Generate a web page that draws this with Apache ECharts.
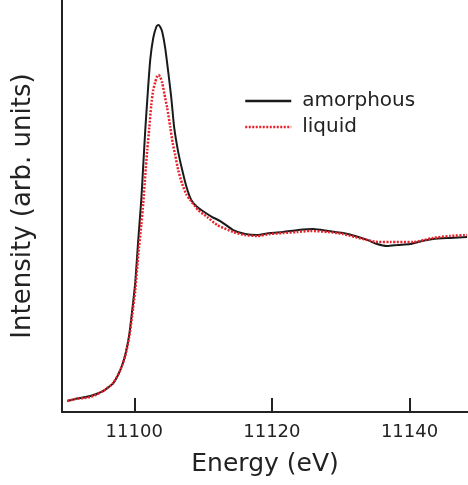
<!DOCTYPE html>
<html>
<head>
<meta charset="utf-8">
<script src="https://cdn.jsdelivr.net/npm/echarts@6/dist/echarts.min.js"></script>
<style>
html, body { margin: 0; padding: 0; background: #fff; }
#chart { width: 468px; height: 485px; }
</style>
</head>
<body>
<div id="chart"></div>
<script>
// X-ray absorption edge, amorphous vs liquid
var tick_values = [11100, 11120, 11140];

var amorphous_energy = [11090.27, 11091.43, 11093.61, 11095.50, 11096.95, 11097.97, 11098.69, 11099.27, 11099.71, 11100.15,
	11100.58, 11101.02, 11101.31, 11101.60, 11101.89, 11102.32, 11102.76, 11103.20, 11103.49, 11103.78,
	11104.07, 11104.50, 11104.94, 11105.37, 11105.81, 11106.39, 11106.97, 11107.55, 11108.28, 11109.15,
	11110.17, 11111.33, 11112.49, 11114.38, 11116.12, 11117.86, 11119.75, 11121.64, 11123.82, 11126.00,
	11128.18, 11130.36, 11132.10, 11133.84, 11135.29, 11136.75, 11138.34, 11140.09, 11141.83, 11143.43,
	11145.90, 11148.37];
var amorphous_intensity = [0.061, 0.072, 0.089, 0.117, 0.161, 0.233, 0.317, 0.428, 0.567, 0.722,
	0.956, 1.178, 1.372, 1.567, 1.733, 1.956, 2.078, 2.139, 2.150, 2.139,
	2.111, 2.022, 1.889, 1.750, 1.578, 1.444, 1.344, 1.256, 1.178, 1.139,
	1.111, 1.083, 1.061, 1.011, 0.989, 0.983, 0.994, 1.000, 1.011, 1.017,
	1.006, 0.994, 0.978, 0.956, 0.933, 0.922, 0.928, 0.933, 0.950, 0.961,
	0.967, 0.972];

var liquid_energy = [11090.27, 11091.43, 11093.61, 11095.50, 11096.95, 11097.97, 11098.69, 11099.27, 11099.71, 11100.15,
	11100.58, 11101.02, 11101.31, 11101.60, 11101.89, 11102.18, 11102.47, 11102.76, 11103.05, 11103.34,
	11103.53, 11103.78, 11104.07, 11104.50, 11104.79, 11105.23, 11105.59, 11105.95, 11106.39, 11106.97,
	11107.55, 11108.13, 11109.30, 11110.60, 11112.06, 11114.38, 11116.12, 11117.86, 11119.75, 11121.64,
	11123.67, 11125.56, 11128.18, 11130.36, 11132.10, 11133.84, 11135.44, 11137.18, 11140.52, 11143.43,
	11145.90, 11148.37];
var liquid_intensity = [0.061, 0.072, 0.083, 0.117, 0.161, 0.233, 0.311, 0.417, 0.539, 0.678,
	0.872, 1.039, 1.161, 1.317, 1.456, 1.578, 1.706, 1.789, 1.833, 1.867,
	1.872, 1.861, 1.828, 1.744, 1.689, 1.583, 1.494, 1.428, 1.344, 1.267,
	1.211, 1.178, 1.122, 1.083, 1.039, 1.000, 0.983, 0.978, 0.989, 0.994,
	1.000, 1.006, 1.000, 0.989, 0.972, 0.956, 0.944, 0.944, 0.944, 0.967,
	0.978, 0.983];

function pairs(xs, ys) {
	var out = [];
	for (var i = 0; i < xs.length; i++) {
		out.push([xs[i], ys[i]]);
	}
	return out;
}

var chart = echarts.init(document.getElementById("chart"));
var option = {
	animation: false,
	textStyle: { fontFamily: "DejaVu Sans" },
	grid: { left: 62, right: 0, top: 0, bottom: 73 },
	legend: {
		orient: "vertical",
		left: 244,
		top: 91,
		itemWidth: 46,
		itemHeight: 14,
		itemGap: 6,
		padding: 0,
		itemStyle: { opacity: 0 },
		lineStyle: { width: 2.5 },
		textStyle: { fontSize: 20, color: "#222", padding: [0, 0, 0, 6] },
		data: ["amorphous", "liquid"]
	},
	xAxis: {
		type: "value",
		min: 11089.5,
		max: 11148.5,
		name: "Energy (eV)",
		nameLocation: "middle",
		nameGap: 40,
		nameTextStyle: { fontSize: 25, color: "#222" },
		splitLine: { show: false },
		axisLine: { lineStyle: { color: "#222", width: 2 } },
		axisTick: { inside: true, length: 14, lineStyle: { color: "#222", width: 2 }, customValues: tick_values },
		axisLabel: {
			fontSize: 18, color: "#222", margin: 11, customValues: tick_values,
			formatter: function (v) { return String(v); }
		}
	},
	yAxis: {
		type: "value",
		min: 0,
		max: 2.289,
		name: "Intensity (arb. units)",
		nameLocation: "middle",
		nameGap: 26,
		nameTextStyle: { fontSize: 26, color: "#222", padding: [0, 0, 0, 0] },
		splitLine: { show: false },
		axisLine: { show: true, lineStyle: { color: "#222", width: 2 } },
		axisTick: { show: false },
		axisLabel: { show: false }
	},
	series: [{
		name: "amorphous",
		type: "line",
		showSymbol: false,
		symbol: "none",
		smooth: 0.2,
		lineStyle: { color: "#1a1a1a", width: 2 },
		itemStyle: { color: "#1a1a1a" },
		data: pairs(amorphous_energy, amorphous_intensity)
	}, {
		name: "liquid",
		type: "line",
		showSymbol: false,
		symbol: "none",
		smooth: 0.2,
		z: 3,
		lineStyle: { color: "#e8202a", width: 2.5, type: [2, 1.5] },
		itemStyle: { color: "#e8202a" },
		data: pairs(liquid_energy, liquid_intensity)
	}]
};
chart.setOption(option);
</script>
</body>
</html>
